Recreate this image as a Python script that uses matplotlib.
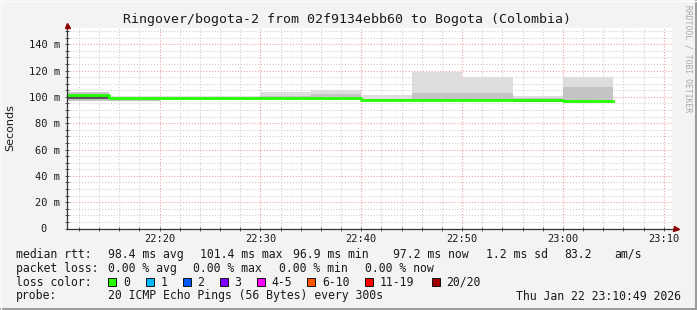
import numpy as np
import matplotlib.pyplot as plt
from matplotlib.lines import Line2D
from matplotlib.patches import Rectangle

W, H = 697, 310

# 5 minute slots (start time of each slot)
slot_start = ["22:10", "22:15", "22:20", "22:25", "22:30", "22:35",
              "22:40", "22:45", "22:50", "22:55", "23:00"]
# median rtt per slot (ms)
median = [101.4, 99.0, 98.8, 98.8, 99.0, 99.0, 97.8, 97.6, 97.6, 97.3, 97.2]
# smoke, outer (light) band
smoke_lo = [97.1, 96.9, 97.3, 97.3, 97.6, 97.5, 96.8, 96.6, 96.6, 96.0, 96.6]
smoke_hi = [103.9, 100.8, 100.6, 100.6, 103.4, 105.3, 101.2, 118.6, 115.3, 101.0, 115.2]
# smoke, inner (medium) band
inner_lo = [97.1, 96.9, 97.8, 97.8, 98.2, 97.8, 97.2, 97.0, 97.0, 96.3, 97.0]
inner_hi = [103.9, 98.4, 99.6, 99.6, 100.6, 102.5, 98.6, 102.7, 103.0, 99.0, 107.5]
# smoke, core (dark) band
core_lo = [98.3, np.nan, np.nan, np.nan, 99.6, np.nan, np.nan, np.nan, np.nan, 96.2, np.nan]
core_hi = [101.0, np.nan, np.nan, np.nan, 100.0, np.nan, np.nan, np.nan, np.nan, 96.8, np.nan]

major_x = ["22:20", "22:30", "22:40", "22:50", "23:00", "23:10"]
y_major = [0, 20, 40, 60, 80, 100, 120, 140]

loss_labels = ["0", "1", "2", "3", "4-5", "6-10", "11-19", "20/20"]
loss_colors = ["#26ff00", "#00b8ff", "#0059ff", "#7e00ff", "#ff00ff",
               "#ff5500", "#ff0000", "#a10000"]


def hm(s):
    h, m = s.split(":")
    return int(h) * 60 + int(m)


t_start = 22 * 60 + 10 + 49 / 60
t_end = t_start + 60
x0 = np.array([hm(s) for s in slot_start], dtype=float)
SLOT = 5

MONO = "DejaVu Sans Mono"
BG = "#f3f3f3"
TXT = "#1a1a1a"

fig = plt.figure(figsize=(W / 100, H / 100), dpi=100, facecolor=BG)
ax = fig.add_axes([67 / W, (H - 228.5) / H, 605 / W, 201 / H])
ax.set_facecolor("white")
ax.set_xlim(t_start, t_end)
ax.set_ylim(0, 201 / 1.3165)

# smoke
ax.bar(x0, np.array(smoke_hi) - np.array(smoke_lo), bottom=smoke_lo, width=SLOT,
       align="edge", color="#dddddd", linewidth=0, zorder=2)
ax.bar(x0, np.array(inner_hi) - np.array(inner_lo), bottom=inner_lo, width=SLOT,
       align="edge", color="#c4c4c4", linewidth=0, zorder=3)
ax.bar(x0, np.array(core_hi) - np.array(core_lo), bottom=core_lo, width=SLOT,
       align="edge", color="#555555", linewidth=0, zorder=4)

# median line
xs = np.append(x0, x0[-1] + SLOT)
ys = np.append(median, median[-1])
ax.step(xs, ys, where="post", color="#22ff00", lw=2.0, zorder=5)

# grid
ax.set_axisbelow(True)
ax.set_xticks([hm(s) for s in major_x])
ax.set_xticklabels(major_x)
ax.set_xticks(np.arange(hm("22:12"), hm("23:11"), 2), minor=True)
ax.set_yticks(y_major)
ax.set_yticklabels([f"{v} m" if v else "0  " for v in y_major])
ax.set_yticks(np.arange(0, 151, 5), minor=True)
ax.grid(which="major", color="#eea0a0", ls=(0, (1, 1.6)), lw=0.8)
ax.grid(which="minor", color="#cfcfcf", ls=(0, (1, 1.6)), lw=0.8)

for side in ("top", "right"):
    ax.spines[side].set_visible(False)
for side in ("left", "bottom"):
    ax.spines[side].set_color("#333333")
    ax.spines[side].set_linewidth(0.9)
    ax.spines[side].set_zorder(6)

ax.tick_params(which="both", direction="inout", length=3, width=0.7, color="#555555",
               labelsize=7.5, labelcolor=TXT)
ax.tick_params(axis="y", pad=3.5)
ax.tick_params(axis="x", pad=2.5)
for lab in ax.get_xticklabels() + ax.get_yticklabels():
    lab.set_family(MONO)

# axis arrows
ax.plot([1.006], [0], marker=">", ms=3.6, color="#8b0000", transform=ax.transAxes,
        clip_on=False, zorder=7)
ax.plot([0], [1.014], marker="^", ms=3.6, color="#8b0000", transform=ax.transAxes,
        clip_on=False, zorder=7)


def ftext(x, y, s, **kw):
    kw.setdefault("family", MONO)
    kw.setdefault("fontsize", 8.3)
    kw.setdefault("color", TXT)
    kw.setdefault("va", "center")
    fig.text(x / W, 1 - y / H, s, **kw)


ftext(347, 19, "Ringover/bogota-2 from 02f9134ebb60 to Bogota (Colombia)",
      fontsize=9.5, ha="center")
ftext(10, 128, "Seconds", family="DejaVu Sans", fontsize=8, rotation=90, ha="center")
ftext(688, 5, "RRDTOOL / TOBI OETIKER", fontsize=5.8, color="#a8a8a8",
      rotation=-90, ha="center", va="top")

# legend lines
row1 = [(15.6, "median rtt:"), (108, "98.4 ms avg"), (200, "101.4 ms max"),
        (293.4, "96.9 ms min"), (393.4, "97.2 ms now"), (485.9, "1.2 ms sd"),
        (564.5, "83.2"), (614.3, "am/s")]
row2 = [(15.6, "packet loss:"), (108, "0.00 % avg"), (193.4, "0.00 % max"),
        (279, "0.00 % min"), (365.4, "0.00 % now")]
for x, s in row1:
    ftext(x, 254.3, s)
for x, s in row2:
    ftext(x, 268.3, s)

ftext(15.6, 282.3, "loss color:")
box_x = [108.3, 145.7, 183, 220, 257, 307.3, 365.3, 432]
for bx, lab, col in zip(box_x, loss_labels, loss_colors):
    fig.add_artist(Rectangle((bx / W, 1 - 285.5 / H), 7.8 / W, 7.8 / H,
                             facecolor=col, edgecolor="#111111", lw=0.7,
                             transform=fig.transFigure))
    ftext(bx + 14.5, 282.3, lab)

ftext(15.6, 296, "probe:")
ftext(108, 296, "20 ICMP Echo Pings (56 Bytes) every 300s")
ftext(681, 296, "Thu Jan 22 23:10:49 2026", ha="right")

# frame shadow
fig.add_artist(Line2D([0, 1], [0.7 / H, 0.7 / H], color="#9c9c9c", lw=1.5,
                      transform=fig.transFigure))
fig.add_artist(Line2D([1 - 0.7 / W, 1 - 0.7 / W], [0, 1], color="#9c9c9c", lw=1.5,
                      transform=fig.transFigure))
fig.add_artist(Line2D([0, 1], [1 - 0.5 / H, 1 - 0.5 / H], color="#fcfcfc", lw=1,
                      transform=fig.transFigure))
fig.add_artist(Line2D([0.5 / W, 0.5 / W], [0, 1], color="#fcfcfc", lw=1,
                      transform=fig.transFigure))

fig.savefig("out.png", dpi=100, facecolor=BG)
